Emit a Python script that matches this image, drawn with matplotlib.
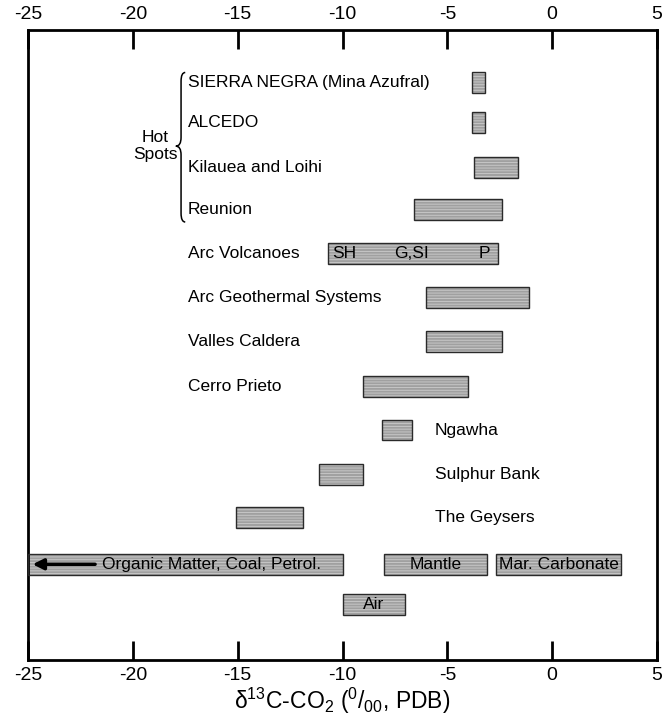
import matplotlib
matplotlib.use("Agg")
import matplotlib.pyplot as plt
from matplotlib.path import Path
from matplotlib.patches import PathPatch

plt.rcParams['font.family'] = ['Liberation Sans', 'DejaVu Sans']
plt.rcParams['mathtext.fontset'] = 'custom'
plt.rcParams['mathtext.rm'] = 'Liberation Sans'
plt.rcParams['mathtext.it'] = 'Liberation Sans'
plt.rcParams['mathtext.default'] = 'regular'
plt.rcParams['hatch.linewidth'] = 0.6

# ---- data ----
left_labels = ["SIERRA NEGRA (Mina Azufral)", "ALCEDO", "Kilauea and Loihi", "Reunion",
               "Arc Volcanoes", "Arc Geothermal Systems", "Valles Caldera", "Cerro Prieto"]
left_low = [-3.8, -3.8, -3.75, -6.6, -10.7, -6.0, -6.0, -9.0]
left_high = [-3.2, -3.2, -1.65, -2.4, -2.6, -1.1, -2.4, -4.0]

right_labels = ["Ngawha", "Sulphur Bank", "The Geysers"]
right_low = [-8.1, -11.1, -15.1]
right_high = [-6.7, -9.0, -11.9]

ref_labels = ["Organic Matter, Coal, Petrol.", "Mantle", "Mar. Carbonate", "Air"]
ref_low = [-25.0, -8.0, -2.7, -10.0]
ref_high = [-10.0, -3.1, 3.3, -7.0]

arc_labels = ["SH", "G,SI", "P"]
arc_pos = [-9.9, -6.7, -3.25]

xticks = [-25, -20, -15, -10, -5, 0, 5]

# ---- layout (row positions) ----
left_rows = [0.0, 0.91, 1.94, 2.92, 3.92, 4.94, 5.95, 6.97]
right_rows = [7.97, 8.98, 9.97]
ref_rows = [11.05, 11.05, 11.05, 11.98]
bar_h = 0.48

fig = plt.figure(figsize=(6.70, 7.18), dpi=100)
ax = fig.add_axes([28/670, 1-660/718, 629/670, 630/718])
ax.set_xlim(-25, 5)
ax.set_ylim(13.245, -1.204)

def draw_bar(lo, hi, y):
    ax.barh(y, hi - lo, left=lo, height=bar_h, color='#a0a0a0', hatch='------',
            edgecolor='#cccccc', linewidth=0, zorder=2)
    ax.barh(y, hi - lo, left=lo, height=bar_h, color='none',
            edgecolor='#2a2a2a', linewidth=1.0, zorder=3)

fs = 12.5
for lab, lo, hi, y in zip(left_labels, left_low, left_high, left_rows):
    draw_bar(lo, hi, y)
    ax.text(-17.37, y, lab, ha='left', va='center', fontsize=fs)

for lab, lo, hi, y in zip(right_labels, right_low, right_high, right_rows):
    draw_bar(lo, hi, y)
    ax.text(-5.59, y, lab, ha='left', va='center', fontsize=fs)

for lo, hi, y in zip(ref_low, ref_high, ref_rows):
    draw_bar(lo, hi, y)

# text inside bars
inner = dict(ha='center', va='center', fontsize=12.5, zorder=5, fontweight='medium')
ax.text(-16.25, ref_rows[0], ref_labels[0], **inner)
for i in (1, 2, 3):
    ax.text((ref_low[i] + ref_high[i]) / 2, ref_rows[i], ref_labels[i], **inner)
for lab, xp in zip(arc_labels, arc_pos):
    ax.text(xp, left_rows[4], lab, **inner)

# arrow in organic bar
ax.annotate('', xy=(-24.78, ref_rows[0]), xytext=(-21.8, ref_rows[0]),
            arrowprops=dict(arrowstyle='-|>', color='black', lw=2.5,
                            mutation_scale=16, shrinkA=0, shrinkB=0), zorder=6)

# Hot spots label and brace
ax.text(-18.94, 1.46, "Hot\nSpots", ha='center', va='center', fontsize=fs, linespacing=1.2)
xr, xm, xl = -17.50, -17.70, -17.95
yt, ym, yb = -0.23, 1.46, 3.2
d = 0.2
verts = [(xr, yt), (xm, yt), (xm, yt + d),
         (xm, ym - d),
         (xm, ym), (xl, ym),
         (xm, ym), (xm, ym + d),
         (xm, yb - d),
         (xm, yb), (xr, yb)]
codes = [Path.MOVETO, Path.CURVE3, Path.CURVE3,
         Path.LINETO,
         Path.CURVE3, Path.CURVE3,
         Path.CURVE3, Path.CURVE3,
         Path.LINETO,
         Path.CURVE3, Path.CURVE3]
ax.add_patch(PathPatch(Path(verts, codes), facecolor='none', edgecolor='black', lw=1.1))

# axes styling
for s in ax.spines.values():
    s.set_linewidth(2.0)
ax.set_yticks([])
ax.set_xticks(xticks)
ax.set_xticklabels([str(t) for t in xticks])
ax.tick_params(axis='x', direction='in', length=14, width=2, top=True, labeltop=True,
               bottom=True, labelbottom=True, labelsize=14, pad=5)
ax.set_xlabel('δ$^{13}$C-CO$_2$ ($^{0}$/$_{00}$, PDB)', fontsize=16.5, labelpad=1)

fig.savefig('out.png', dpi=100)
